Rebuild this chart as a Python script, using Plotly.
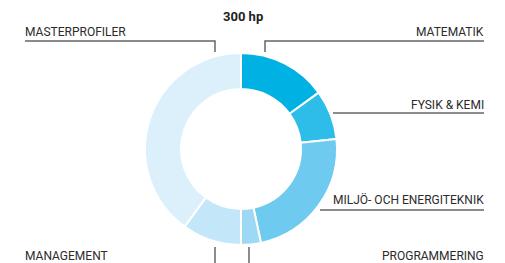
import plotly.graph_objects as go

W, H = 505, 263
OFF = 8  # page body margin

labels = ["MATEMATIK", "FYSIK & KEMI", "MILJÖ- OCH ENERGITEKNIK", "PROGRAMMERING", "MANAGEMENT", "MASTERPROFILER"]
values = [45, 25, 70, 10, 30, 120]
colors = ["#00b2e3", "#2ebde9", "#6fcaef", "#9dd9f4", "#c3e6f8", "#dbf0fb"]
title_text = "300 hp"

cx, cy, r = 241, 149, 96

def px(x):
    return (x - OFF) / W

def py(y):
    return 1 - (y - OFF) / H

fig = go.Figure(go.Pie(
    labels=labels, values=values, sort=False, direction="clockwise", rotation=0,
    hole=0.625, textinfo="none", hoverinfo="label+value",
    marker=dict(colors=colors, line=dict(color="white", width=2)),
    domain=dict(x=[px(cx - r), px(cx + r)], y=[py(cy + r), py(cy - r)]),
    showlegend=False,
))

font = dict(family="Roboto, sans-serif", size=12, color="#2b2b2b")

ann = [
    ("MASTERPROFILER", 23, 31.5, "left"),
    ("MATEMATIK", 486, 31.5, "right"),
    ("FYSIK &amp; KEMI", 486, 105, "right"),
    ("MILJÖ- OCH ENERGITEKNIK", 486, 199, "right"),
    ("MANAGEMENT", 23, 255.5, "left"),
    ("PROGRAMMERING", 486, 255.5, "right"),
]
for t, x, y, a in ann:
    fig.add_annotation(text=t, x=px(x), y=py(y), xref="paper", yref="paper",
                       xanchor=a, yanchor="middle", showarrow=False, font=font)

fig.add_annotation(text="<b>" + title_text + "</b>", x=px(243), y=py(17), xref="paper", yref="paper",
                   xanchor="center", yanchor="middle", showarrow=False,
                   font=dict(family="Roboto, sans-serif", size=13, color="#222222"))

lines = [
    [(25, 41), (215, 41), (215, 52)],
    [(484, 41), (265, 41), (265, 52)],
    [(333, 113), (484, 113)],
    [(320, 210), (484, 210)],
    [(215, 247), (215, 264)],
    [(249, 247), (249, 264)],
]
for pts in lines:
    path = "M " + " L ".join(f"{px(x):.5f},{py(y):.5f}" for x, y in pts)
    fig.add_shape(type="path", path=path, xref="paper", yref="paper",
                  line=dict(color="#666666", width=1.5))

fig.update_layout(width=W, height=H, margin=dict(l=0, r=0, t=0, b=0),
                  paper_bgcolor="white", plot_bgcolor="white")

fig.write_html("out.html")
